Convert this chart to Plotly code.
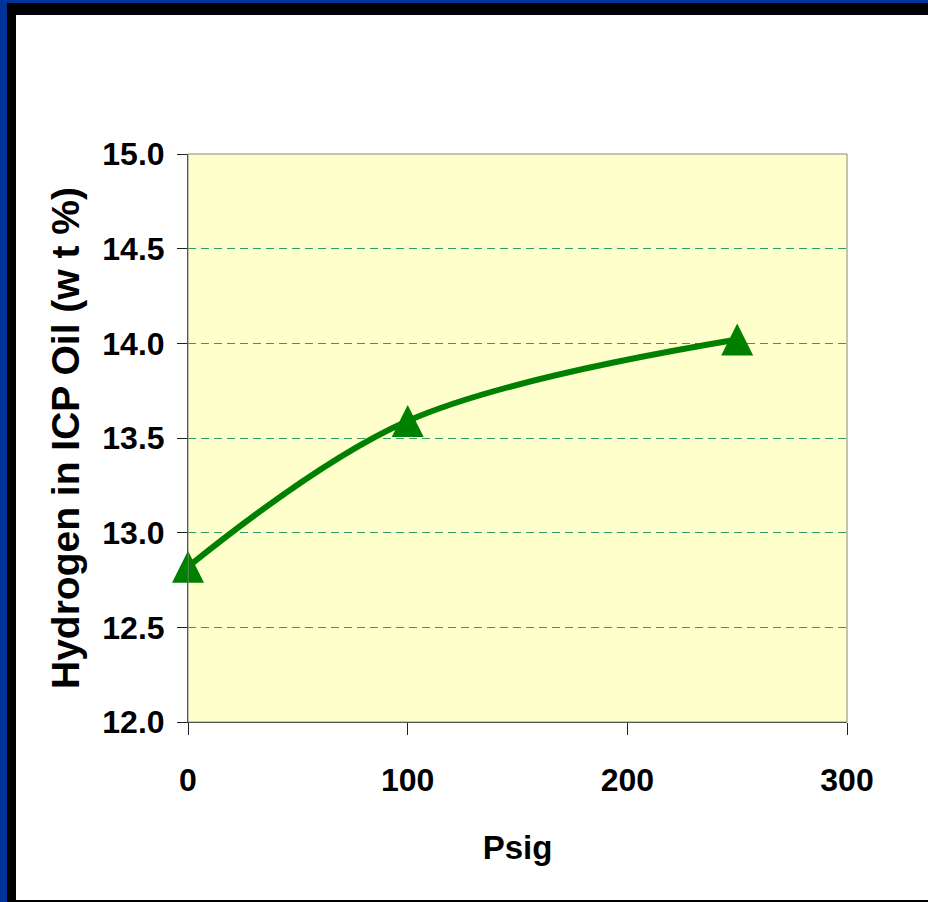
import plotly.graph_objects as go

# Hydrogen content of ICP oil versus pressure
pressure_psig = [0, 100, 250]
hydrogen_wt_pct = [12.82, 13.59, 14.02]

x_ticks = [0, 100, 200, 300]
y_ticks = [12.0, 12.5, 13.0, 13.5, 14.0, 14.5, 15.0]

W, H = 928, 902
ML, MR, MT, MB = 188, 81, 154, 180
PW, PH = W - ML - MR, H - MT - MB


def px_x(p):
    return (p - ML) / PW


def px_y(p):
    return (H - MB - p) / PH


def frame_rect(x0, y0, x1, y1, color):
    return dict(type="rect", xref="paper", yref="paper",
                x0=px_x(x0), x1=px_x(x1), y0=px_y(y1), y1=px_y(y0),
                fillcolor=color, line=dict(width=0), layer="above")


GREEN = "#008000"
BLUE = "#003399"
MARKER_SIZE = 32
tick_font = dict(family="Liberation Sans, Arial", size=32, color="black",
                 weight="bold")

fig = go.Figure()
# smoothed connecting line
fig.add_trace(go.Scatter(
    x=pressure_psig, y=hydrogen_wt_pct,
    mode="lines",
    line=dict(color=GREEN, width=6, shape="spline", smoothing=1),
    cliponaxis=False, showlegend=False, hoverinfo="skip",
))
# upward triangles centred on each measurement
# (arrow head flipped to point up, shifted by half its height)
fig.add_trace(go.Scatter(
    x=pressure_psig, y=hydrogen_wt_pct,
    mode="markers",
    marker=dict(symbol="arrow-down", angle=180, size=MARKER_SIZE,
                standoff=MARKER_SIZE / 2, color=GREEN, line=dict(width=0)),
    cliponaxis=False, showlegend=False,
))

shapes = [
    # plot area outline
    dict(type="rect", xref="x domain", yref="y domain", x0=0, x1=1, y0=0, y1=1,
         line=dict(color="#888888", width=1), layer="above"),
    # slide frame
    frame_rect(0, 0, 7, H, BLUE),
    frame_rect(0, 0, W, 3, BLUE),
    frame_rect(7, 3, 16, H, "black"),
    frame_rect(7, 3, W, 15, "black"),
    frame_rect(7, 900, W, H, "black"),
]

fig.update_layout(
    width=W, height=H,
    margin=dict(l=ML, r=MR, t=MT, b=MB),
    paper_bgcolor="white",
    plot_bgcolor="#FFFFCC",
    shapes=shapes,
    font=dict(family="Liberation Sans, Arial", color="black"),
)

fig.update_xaxes(
    range=[0, 300], tickvals=x_ticks, ticktext=[str(v) for v in x_ticks],
    showgrid=False, zeroline=False,
    showline=True, linecolor="#222222", linewidth=1,
    ticks="outside", ticklen=12, tickcolor="#222222", tickwidth=1,
    tickfont=tick_font, ticklabelstandoff=18,
    title=dict(text="Psig", font=dict(size=33, weight="bold", color="black"),
               standoff=38),
)

fig.update_yaxes(
    range=[12, 15], tickvals=y_ticks, ticktext=[f"{v:.1f}" for v in y_ticks],
    showgrid=True, gridcolor="#2E9E6E", gridwidth=1, griddash="8px,5px",
    zeroline=False,
    showline=True, linecolor="#222222", linewidth=1,
    ticks="outside", ticklen=10, tickcolor="#222222", tickwidth=1,
    tickfont=tick_font, ticklabelstandoff=6,
    title=dict(text="Hydrogen in ICP Oil (w t %)",
               font=dict(size=39, weight="bold", color="black"),
               standoff=10),
)

fig.write_html("out.html")
